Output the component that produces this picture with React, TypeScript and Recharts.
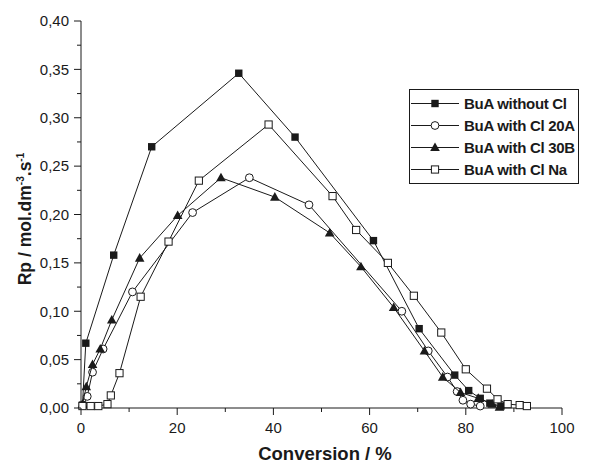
import { ScatterChart, Scatter, XAxis, YAxis, Legend } from 'recharts';

const FONT = '"Liberation Sans", Arial, Helvetica, sans-serif';
const INK = '#1a1a1a';

// Conversion (%) / Rp (mol.dm-3.s-1)
const withoutCl = [
  { x: 0.3, y: 0.003 }, { x: 1.0, y: 0.067 }, { x: 6.8, y: 0.158 }, { x: 14.7, y: 0.27 },
  { x: 32.8, y: 0.346 }, { x: 44.5, y: 0.28 }, { x: 60.8, y: 0.173 }, { x: 70.3, y: 0.082 },
  { x: 77.7, y: 0.034 }, { x: 80.6, y: 0.018 }, { x: 83.0, y: 0.01 }, { x: 85.0, y: 0.005 },
  { x: 87.3, y: 0.002 },
];

const withCl20A = [
  { x: 0.5, y: 0.003 }, { x: 1.3, y: 0.012 }, { x: 2.4, y: 0.037 }, { x: 4.6, y: 0.061 },
  { x: 10.7, y: 0.12 }, { x: 23.2, y: 0.202 }, { x: 35.0, y: 0.238 }, { x: 47.4, y: 0.21 },
  { x: 66.7, y: 0.1 }, { x: 72.2, y: 0.059 }, { x: 76.2, y: 0.032 }, { x: 78.2, y: 0.017 },
  { x: 79.4, y: 0.008 }, { x: 81.0, y: 0.004 }, { x: 83.0, y: 0.002 },
];

const withCl30B = [
  { x: 0.3, y: 0.004 }, { x: 1.1, y: 0.022 }, { x: 2.4, y: 0.045 }, { x: 4.0, y: 0.061 },
  { x: 6.4, y: 0.091 }, { x: 12.2, y: 0.155 }, { x: 20.1, y: 0.199 }, { x: 29.1, y: 0.238 },
  { x: 40.3, y: 0.218 }, { x: 51.7, y: 0.181 }, { x: 58.2, y: 0.146 }, { x: 65.0, y: 0.104 },
  { x: 71.4, y: 0.059 }, { x: 75.2, y: 0.032 }, { x: 78.9, y: 0.016 }, { x: 82.6, y: 0.01 },
  { x: 85.5, y: 0.004 }, { x: 87.0, y: 0.001 },
];

const withClNa = [
  { x: 0.3, y: 0.002 }, { x: 2.0, y: 0.002 }, { x: 3.6, y: 0.002 }, { x: 5.5, y: 0.004 },
  { x: 6.2, y: 0.013 }, { x: 8.0, y: 0.036 }, { x: 12.4, y: 0.115 }, { x: 18.2, y: 0.172 },
  { x: 24.5, y: 0.235 }, { x: 39.0, y: 0.293 }, { x: 52.3, y: 0.219 }, { x: 57.2, y: 0.184 },
  { x: 63.8, y: 0.15 }, { x: 69.2, y: 0.116 }, { x: 74.9, y: 0.078 }, { x: 80.0, y: 0.04 },
  { x: 84.4, y: 0.02 }, { x: 86.6, y: 0.009 }, { x: 88.7, y: 0.004 }, { x: 91.2, y: 0.003 },
  { x: 92.7, y: 0.002 },
];

const xTicks = [0, 10, 20, 30, 40, 50, 60, 70, 80, 90, 100];
const yTicks = [0, 0.025, 0.05, 0.075, 0.1, 0.125, 0.15, 0.175, 0.2, 0.225, 0.25, 0.275, 0.3, 0.325, 0.35, 0.375, 0.4];

type Pt = { cx?: number; cy?: number };

const FilledSquare = ({ cx = 0, cy = 0 }: Pt) => (
  <rect x={cx - 3.7} y={cy - 3.7} width={7.4} height={7.4} fill={INK} />
);
const OpenSquare = ({ cx = 0, cy = 0 }: Pt) => (
  <rect x={cx - 3.6} y={cy - 3.6} width={7.2} height={7.2} fill="#fff" stroke={INK} strokeWidth={1} />
);
const OpenCircle = ({ cx = 0, cy = 0 }: Pt) => (
  <circle cx={cx} cy={cy} r={3.9} fill="#fff" stroke={INK} strokeWidth={1} />
);
const Triangle = ({ cx = 0, cy = 0 }: Pt) => (
  <polygon points={`${cx},${cy - 5} ${cx - 4.8},${cy + 3.6} ${cx + 4.8},${cy + 3.6}`} fill={INK} />
);

const series = [
  { name: 'BuA without Cl', data: withoutCl, Shape: FilledSquare },
  { name: 'BuA with Cl 20A', data: withCl20A, Shape: OpenCircle },
  { name: 'BuA with Cl 30B', data: withCl30B, Shape: Triangle },
  { name: 'BuA with Cl Na', data: withClNa, Shape: OpenSquare },
];

const XTick = (props: any) => {
  const { x, y, payload } = props;
  const major = payload.value % 20 === 0;
  return (
    <g>
      <line x1={x} y1={y} x2={x} y2={y + (major ? 7 : 4)} stroke={INK} />
      {major && (
        <text x={x} y={y + 25} textAnchor="middle" fontSize={15} fontFamily={FONT} fill={INK}>
          {payload.value}
        </text>
      )}
    </g>
  );
};

const YTick = (props: any) => {
  const { x, y, payload } = props;
  const major = Math.round(payload.value * 1000) % 50 === 0;
  return (
    <g>
      <line x1={x - (major ? 7 : 4)} y1={y} x2={x} y2={y} stroke={INK} />
      {major && (
        <text x={x - 12} y={y + 5.3} textAnchor="end" fontSize={15} fontFamily={FONT} fill={INK}>
          {payload.value.toFixed(2).replace('.', ',')}
        </text>
      )}
    </g>
  );
};

const LegendBox = () => (
  <svg width={172} height={96} style={{ display: 'block' }}>
    <rect x={0.5} y={0.5} width={169} height={94} fill="#fff" stroke={INK} strokeWidth={1} />
    {series.map((s, i) => {
      const cy = 14.5 + i * 22;
      return (
        <g key={s.name}>
          <line x1={2} y1={cy} x2={50} y2={cy} stroke={INK} strokeWidth={1} />
          <s.Shape cx={26} cy={cy} />
          <text
            x={55}
            y={cy + 5.5}
            fontSize={15}
            fontWeight="bold"
            fontFamily={FONT}
            fill={INK}
            letterSpacing={-0.3}
          >
            {s.name}
          </text>
        </g>
      );
    })}
  </svg>
);

export default function App() {
  return (
    <div style={{ position: 'absolute', left: 0, top: 0, width: 606, height: 464, background: '#fff' }}>
      <ScatterChart width={606} height={464} margin={{ top: 21, right: 44, bottom: 16, left: 21 }}>
        <XAxis
          type="number"
          dataKey="x"
          domain={[0, 100]}
          ticks={xTicks}
          interval={0}
          height={40}
          tickSize={0}
          tickMargin={0}
          tickLine={false}
          axisLine={{ stroke: INK }}
          tick={<XTick />}
          label={{
            content: () => (
              <text x={325} y={460} textAnchor="middle" fontSize={18.5} fontWeight="bold" fontFamily={FONT} fill={INK}>
                Conversion / %
              </text>
            ),
          }}
        />
        <YAxis
          type="number"
          dataKey="y"
          domain={[0, 0.4]}
          ticks={yTicks}
          interval={0}
          width={60}
          tickSize={0}
          tickMargin={0}
          tickLine={false}
          axisLine={{ stroke: INK }}
          tick={<YTick />}
          label={{
            content: () => (
              <text
                x={31}
                y={219}
                transform="rotate(-90 31 219)"
                textAnchor="middle"
                fontSize={17.5}
                fontWeight="bold"
                fontFamily={FONT}
                fill={INK}
              >
                Rp / mol.dm
                <tspan dy={-7} fontSize={10}>-3</tspan>
                <tspan dy={7}>.s</tspan>
                <tspan dy={-7} fontSize={10}>-1</tspan>
              </text>
            ),
          }}
        />
        {series.map((s) => (
          <Scatter
            key={s.name}
            name={s.name}
            data={s.data}
            line={{ stroke: INK, strokeWidth: 1 }}
            lineType="joint"
            shape={(p: any) => <s.Shape cx={p.cx} cy={p.cy} />}
            isAnimationActive={false}
          />
        ))}
        <Legend
          layout="vertical"
          align="center"
          verticalAlign="middle"
          content={() => <LegendBox />}
          wrapperStyle={{ position: 'absolute', left: 409, top: 89, width: 172, height: 96 }}
        />
      </ScatterChart>
    </div>
  );
}
